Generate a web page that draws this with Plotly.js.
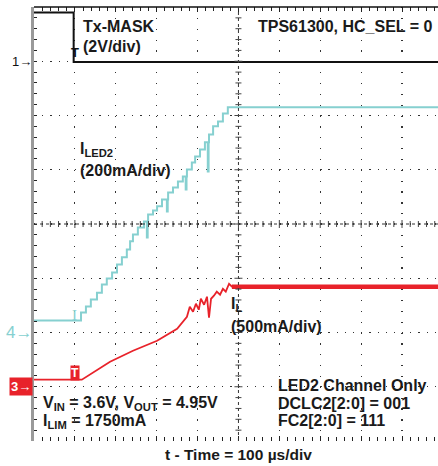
<!DOCTYPE html>
<html>
<head>
<meta charset="utf-8">
<script src="https://cdn.plot.ly/plotly-3.0.1.min.js"></script>
<style>html,body{margin:0;padding:0;background:#fff;}#chart{width:438px;height:466px;}</style>
</head>
<body>
<div id="chart"></div>
<script>
// ---- scope settings ----
const T_PER_DIV = 100;          // µs / div
const T_RANGE = [0, 988];       // visible time window (µs), right edge cut off
const CH1 = {perDiv: 2, groundDiv: 3};     // Tx-MASK, V
const CH4 = {perDiv: 200, groundDiv: -2};  // I_LED2, mA
const CH3 = {perDiv: 500, groundDiv: -3};  // I_L, mA

// ---- Tx-MASK (V) ----
const maskTime = [0, 97, 97, 988];
const maskVolt = [1.8, 1.8, -0.03, -0.03];

// ---- I_LED2 staircase (mA), step vertices (hv) ----
const ledTime = [0, 115, 127, 139, 154, 166, 178, 191, 203, 215, 227, 235, 242, 254, 269, 276, 278, 279, 291, 301, 313, 325, 327, 328, 340, 352, 364, 371, 373, 374, 386, 394, 406, 418, 425, 427, 428, 438, 450, 462, 474, 988];
const ledCurr = [44, 74, 96, 122, 147, 177, 199, 221, 251, 277, 306, 336, 361, 387, 409, 350, 409, 435, 450, 465, 490, 446, 490, 516, 535, 557, 575, 527, 575, 601, 627, 649, 675, 701, 594, 701, 730, 760, 778, 807, 830, 830];

// ---- I_L inductor current (mA) ----
const ilTime = [0, 117, 186, 242, 301, 350, 374, 381, 389, 396, 403, 408, 416, 423, 428, 433, 440, 447, 455, 462, 469, 477, 484, 988];
const ilCurr = [65, 65, 230, 332, 424, 535, 645, 737, 691, 765, 710, 811, 756, 830, 636, 811, 839, 876, 848, 903, 876, 949, 922, 922];

const TRIG_T = 100;

function chRange(ch){ return [(-4 - ch.groundDiv) * ch.perDiv, (4 - ch.groundDiv) * ch.perDiv]; }

const FONT = '"Liberation Sans", Arial, Helvetica, sans-serif';
const CYAN = '#86d0d0';
const RED = '#e8222a';

const traces = [
  {x: ledTime, y: ledCurr, yaxis: 'y2', mode: 'lines', line: {color: CYAN, width: 2, shape: 'hv'}, hoverinfo: 'skip'},
  {x: ilTime, y: ilCurr, yaxis: 'y3', mode: 'lines', line: {color: RED, width: 1.8}, hoverinfo: 'skip'},
  {x: [ilTime[ilTime.length-2], ilTime[ilTime.length-1]], y: [ilCurr[ilCurr.length-2], ilCurr[ilCurr.length-1]], yaxis: 'y3', mode: 'lines', line: {color: RED, width: 4.5}, hoverinfo: 'skip'},
  {x: maskTime, y: maskVolt, yaxis: 'y', mode: 'lines', line: {color: '#111', width: 2}, hoverinfo: 'skip'}
];

// center cross with small ticks
const centerT = (T_RANGE[0] + 5 * T_PER_DIV);
const centerV = -CH1.groundDiv * CH1.perDiv;
const shapes = [
  {type: 'line', xref: 'paper', yref: 'paper', x0: 0, x1: 1, y0: 1, y1: 1, line: {color: '#111', width: 1.5}},
  {type: 'line', xref: 'x', yref: 'paper', x0: centerT, x1: centerT, y0: 0, y1: 1, line: {color: '#333', width: 1, dash: 'dot'}},
  {type: 'line', xref: 'paper', yref: 'y', x0: 0, x1: 1, y0: centerV, y1: centerV, line: {color: '#333', width: 1, dash: 'dot'}}
];
const yR = chRange(CH1);
for (let k = 1; k < 40; k++) {
  const v = yR[0] + k * CH1.perDiv / 5;
  const big = k % 5 === 0;
  shapes.push({type: 'line', xref: 'x', yref: 'y', xsizemode: 'pixel', xanchor: centerT, x0: big ? -4 : -3, x1: big ? 4 : 3, y0: v, y1: v, line: {color: '#444', width: 1}});
}
for (let k = 1; k < 50; k++) {
  const t = T_RANGE[0] + k * T_PER_DIV / 5;
  if (t > T_RANGE[1]) break;
  const big = k % 5 === 0;
  shapes.push({type: 'line', xref: 'x', yref: 'y', ysizemode: 'pixel', yanchor: centerV, y0: big ? -4 : -3, y1: big ? 4 : 3, x0: t, x1: t, line: {color: '#444', width: 1}});
}

function note(text, x, y, xanchor, size, extra) {
  return Object.assign({text: text, xref: 'paper', yref: 'paper', x: x, y: y, xanchor: xanchor, yanchor: 'middle',
    showarrow: false, borderpad: 0, font: {family: FONT, size: size || 16, color: '#1a1a1a'}}, extra || {});
}

const annotations = [
  note('<b>Tx-MASK</b>', 0.119, 0.956, 'left', 16),
  note('<b>(2V/div)</b>', 0.119, 0.910, 'left', 16),
  note('<b>TPS61300, HC_SEL = 0</b>', 0.990, 0.956, 'right', 16),
  note('<b>I<sub>LED2</sub></b>', 0.111, 0.672, 'left', 16),
  note('<b>(200mA/div)</b>', 0.111, 0.624, 'left', 16),
  note('<b>I<sub>L</sub></b>', 0.485, 0.314, 'left', 16),
  note('<b>(500mA/div)</b>', 0.485, 0.263, 'left', 16),
  note('<b>LED2 Channel Only</b>', 0.601, 0.129, 'left', 16),
  note('<b>DCLC2[2:0] = 001</b>', 0.601, 0.086, 'left', 16),
  note('<b>FC2[2:0] = 111</b>', 0.601, 0.048, 'left', 16),
  note('<b>V<sub>IN</sub> = 3.6V, V<sub>OUT</sub> = 4.95V</b>', 0.020, 0.086, 'left', 16),
  note('<b>I<sub>LIM</sub> = 1750mA</b>', 0.020, 0.044, 'left', 16),
  note('<b>t - Time = 100 µs/div</b>', 0.505, -0.032, 'center', 15.5),
  // channel ground markers
  {text: '1→', xref: 'paper', yref: 'y', x: 0, y: 0, xanchor: 'right', yanchor: 'middle', xshift: -1, showarrow: false, borderpad: 0,
   font: {family: FONT, size: 13, color: '#111'}},
  {text: '4→', xref: 'paper', yref: 'y2', x: 0, y: 0, xanchor: 'right', yanchor: 'middle', xshift: -1, showarrow: false, borderpad: 0,
   font: {family: FONT, size: 17, color: CYAN}},
  {text: '<b>3→</b>', xref: 'paper', yref: 'y3', x: 0, y: 0, xanchor: 'right', yanchor: 'middle', xshift: -1, showarrow: false, borderpad: 1,
   bgcolor: RED, font: {family: FONT, size: 13, color: '#fff'}},
  // trigger markers
  {text: '<b>T</b>', xref: 'x', yref: 'y', x: TRIG_T, y: 0, xanchor: 'center', yanchor: 'bottom', showarrow: false, borderpad: 0,
   font: {family: FONT, size: 13, color: '#111'}},
  {text: 'I', xref: 'x', yref: 'y2', x: TRIG_T, y: ledCurr[0], xanchor: 'center', yanchor: 'bottom', yshift: -3, showarrow: false, borderpad: 0,
   font: {family: '"Liberation Serif", serif', size: 15, color: CYAN}},
  {text: '<b>T</b>', xref: 'x', yref: 'y3', x: TRIG_T, y: ilCurr[0], xanchor: 'center', yanchor: 'bottom', yshift: -1, showarrow: false, borderpad: 0,
   bgcolor: RED, font: {family: FONT, size: 12, color: '#fff'}}
];

const layout = {
  width: 438, height: 466,
  margin: {l: 34, r: 0, t: 7, b: 25, pad: 0},
  paper_bgcolor: '#fff', plot_bgcolor: '#fff',
  showlegend: false,
  xaxis: {range: T_RANGE, dtick: T_PER_DIV, tick0: 0, showgrid: true, gridcolor: '#333', gridwidth: 1.2,
    griddash: '1.2px,9.65px', zeroline: false, showline: false, mirror: 'ticks', ticks: 'inside', ticklen: 5,
    tickcolor: '#222', tickwidth: 1, showticklabels: false, fixedrange: true,
    minor: {dtick: T_PER_DIV / 5, ticks: 'inside', ticklen: 4, tickcolor: '#222', showgrid: false}},
  yaxis: {range: chRange(CH1), dtick: CH1.perDiv, tick0: 0, showgrid: true, gridcolor: '#333', gridwidth: 1.2,
    griddash: '1.2px,6.98px', zeroline: false, showline: true, linecolor: '#9a9a9a', linewidth: 3, mirror: false,
    ticks: 'inside', ticklen: 3, tickcolor: '#222', showticklabels: false, fixedrange: true,
    minor: {dtick: CH1.perDiv / 5, ticks: 'inside', ticklen: 3, tickcolor: '#222', showgrid: false}},
  yaxis2: {range: chRange(CH4), overlaying: 'y', visible: false, fixedrange: true},
  yaxis3: {range: chRange(CH3), overlaying: 'y', visible: false, fixedrange: true},
  shapes: shapes,
  annotations: annotations
};

Plotly.newPlot('chart', traces, layout, {displayModeBar: false, staticPlot: true});
</script>
</body>
</html>
